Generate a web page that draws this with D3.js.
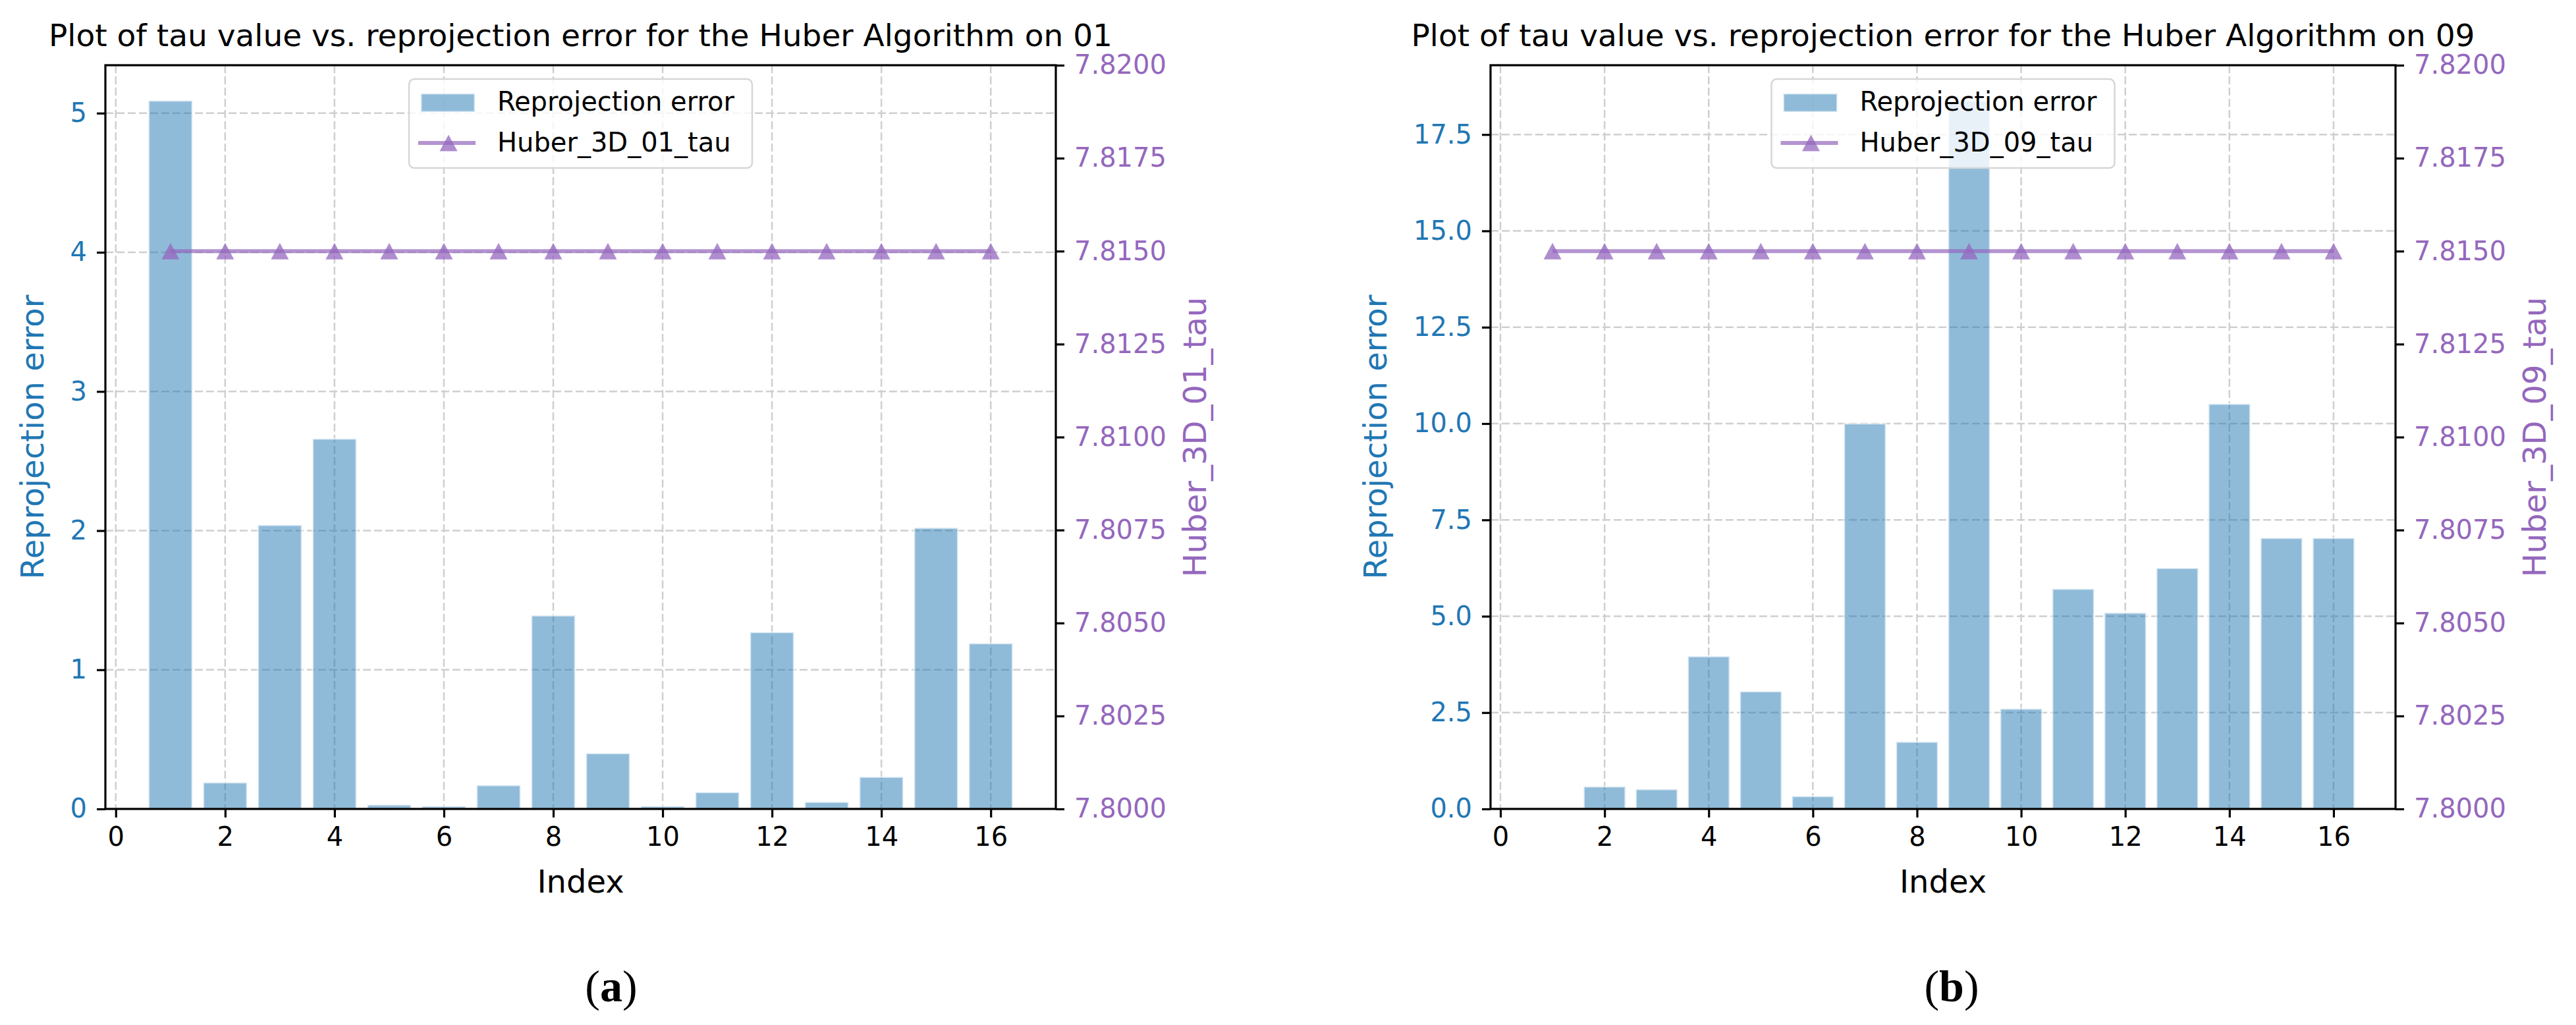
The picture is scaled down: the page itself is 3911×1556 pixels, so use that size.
<!DOCTYPE html>
<html>
<head>
<meta charset="utf-8">
<script src="https://cdn.jsdelivr.net/npm/d3@7"></script>
<style>
  body { margin: 0; background: #fff; }
  svg text { font-family: "DejaVu Sans", sans-serif; }
</style>
</head>
<body>
<div id="chart"></div>
<script>
// Data
let index = [1, 2, 3, 4, 5, 6, 7, 8, 9, 10, 11, 12, 13, 14, 15, 16];
let err01 = [5.09, 0.19, 2.04, 2.66, 0.03, 0.02, 0.17, 1.39, 0.40, 0.02, 0.12, 1.27, 0.05, 0.23, 2.02, 1.19];
let err09 = [0.03, 0.58, 0.51, 3.96, 3.05, 0.33, 10.00, 1.74, 18.38, 2.60, 5.71, 5.09, 6.25, 10.51, 7.03, 7.03];
let tau01 = [7.815, 7.815, 7.815, 7.815, 7.815, 7.815, 7.815, 7.815, 7.815, 7.815, 7.815, 7.815, 7.815, 7.815, 7.815, 7.815];
let tau09 = [7.815, 7.815, 7.815, 7.815, 7.815, 7.815, 7.815, 7.815, 7.815, 7.815, 7.815, 7.815, 7.815, 7.815, 7.815, 7.815];
let xTicks = [0, 2, 4, 6, 8, 10, 12, 14, 16];
let errTicks01 = [0, 1, 2, 3, 4, 5];
let errTicks09 = [0, 2.5, 5, 7.5, 10, 12.5, 15, 17.5];
let tauTicks = [7.8, 7.8025, 7.805, 7.8075, 7.81, 7.8125, 7.815, 7.8175, 7.82];
let tauDomain = [7.8, 7.82];
let titles = ["Plot of tau value vs. reprojection error for the Huber Algorithm on 01",
              "Plot of tau value vs. reprojection error for the Huber Algorithm on 09"];
let tauNames = ["Huber_3D_01_tau", "Huber_3D_09_tau"];
let captions = ["a", "b"];

let blue = "#1f77b4", purple = "#9467bd";
let font = "'DejaVu Sans', sans-serif";

let svg = d3.select("#chart").append("svg")
    .attr("width", 3911)
    .attr("height", 1556);

let panels = [
  {left: 160, top: 99, width: 1443, height: 1129, err: err01, tau: tau01, errTicks: errTicks01,
   errFormat: d3.format("d"), title: titles[0], tauName: tauNames[0], caption: captions[0], capX: 928},
  {left: 2263, top: 99, width: 1374, height: 1129, err: err09, tau: tau09, errTicks: errTicks09,
   errFormat: d3.format(".1f"), title: titles[1], tauName: tauNames[1], caption: captions[1], capX: 2963}
];

function drawPanel(p) {
  let W = p.width, H = p.height;
  let g = svg.append("g").attr("transform", `translate(${p.left}, ${p.top})`);

  // matplotlib style limits: bars of width .8 plus 5% margin
  let lo = d3.min(index) - 0.4, hi = d3.max(index) + 0.4, pad = (hi - lo) * 0.05;
  let x = d3.scaleLinear().domain([lo - pad, hi + pad]).range([0, W]);
  let y = d3.scaleLinear().domain([0, d3.max(p.err) * 1.05]).range([H, 0]);
  let yT = d3.scaleLinear().domain(tauDomain).range([H, 0]);

  // grid
  let grid = g.append("g").attr("class", "grid");
  grid.selectAll(".vg").data(xTicks).enter().append("line")
      .attr("x1", d => x(d)).attr("x2", d => x(d)).attr("y1", 0).attr("y2", H);
  grid.selectAll(".hg").data(p.errTicks).enter().append("line")
      .attr("x1", 0).attr("x2", W).attr("y1", d => y(d)).attr("y2", d => y(d));
  grid.selectAll("line")
      .attr("stroke", "#cfcfcf").attr("stroke-width", 2.5).attr("stroke-dasharray", "12,5");

  // bars
  g.selectAll(".bar").data(p.err).enter().append("rect")
      .attr("class", "bar")
      .attr("x", (d, i) => x(index[i] - 0.4))
      .attr("width", (d, i) => x(index[i] + 0.4) - x(index[i] - 0.4))
      .attr("y", d => y(d))
      .attr("height", d => H - y(d))
      .attr("fill", blue).attr("fill-opacity", 0.5)
      .attr("stroke", "#fff").attr("stroke-opacity", 0.6).attr("stroke-width", 3);

  // tau line
  let line = d3.line().x((d, i) => x(index[i])).y(d => yT(d));
  g.append("path").datum(p.tau)
      .attr("d", line)
      .attr("fill", "none")
      .attr("stroke", purple).attr("stroke-opacity", 0.7).attr("stroke-width", 6);
  let tri = "M0,-12.5L13.5,12.5L-13.5,12.5Z";
  g.selectAll(".mk").data(p.tau).enter().append("path")
      .attr("d", tri)
      .attr("transform", (d, i) => `translate(${x(index[i])}, ${yT(d)})`)
      .attr("fill", purple).attr("fill-opacity", 0.75);

  // axes
  function style(ax, color) {
    ax.select(".domain").remove();
    ax.attr("font-family", font).attr("font-size", 40);
    ax.selectAll(".tick line").attr("stroke", "#000").attr("stroke-width", 3.2);
    ax.selectAll(".tick text").attr("fill", color);
  }
  let xAx = g.append("g").attr("transform", `translate(0, ${H})`)
      .call(d3.axisBottom(x).tickValues(xTicks).tickFormat(d3.format("d")).tickSize(13).tickPadding(15));
  style(xAx, "#000");
  let yAx = g.append("g")
      .call(d3.axisLeft(y).tickValues(p.errTicks).tickFormat(p.errFormat).tickSize(13).tickPadding(15));
  style(yAx, blue);
  let tAx = g.append("g").attr("transform", `translate(${W}, 0)`)
      .call(d3.axisRight(yT).tickValues(tauTicks).tickFormat(d3.format(".4f")).tickSize(13).tickPadding(15));
  style(tAx, purple);

  // spines
  g.append("rect").attr("width", W).attr("height", H)
      .attr("fill", "none").attr("stroke", "#000").attr("stroke-width", 3.2);

  // labels
  let yb = yAx.node().getBBox();
  g.append("text")
      .attr("transform", `translate(${yb.x - 41}, ${H / 2}) rotate(-90)`)
      .attr("text-anchor", "middle").attr("font-size", 48).attr("fill", blue)
      .text("Reprojection error");
  let tb = tAx.node().getBBox();
  g.append("text")
      .attr("transform", `translate(${W + tb.x + tb.width + 60}, ${H / 2}) rotate(-90)`)
      .attr("text-anchor", "middle").attr("font-size", 48).attr("fill", purple)
      .text(p.tauName);
  g.append("text")
      .attr("x", W / 2).attr("y", H + 127)
      .attr("text-anchor", "middle").attr("font-size", 48).attr("fill", "#000")
      .text("Index");
  g.append("text")
      .attr("x", W / 2).attr("y", -29)
      .attr("text-anchor", "middle").attr("font-size", 47).attr("fill", "#000")
      .text(p.title);

  // legend (upper center)
  let lg = g.append("g").attr("transform", `translate(${W / 2 - 260.5}, 21)`);
  lg.append("rect").attr("width", 521).attr("height", 135).attr("rx", 8)
      .attr("fill", "#fff").attr("fill-opacity", 0.8)
      .attr("stroke", "#d6d6d6").attr("stroke-width", 2.5);
  lg.append("rect").attr("x", 18).attr("y", 22).attr("width", 82).attr("height", 28)
      .attr("fill", blue).attr("fill-opacity", 0.5)
      .attr("stroke", "#fff").attr("stroke-opacity", 0.6).attr("stroke-width", 3);
  lg.append("line").attr("x1", 14).attr("x2", 101).attr("y1", 97).attr("y2", 97)
      .attr("stroke", purple).attr("stroke-opacity", 0.7).attr("stroke-width", 6);
  lg.append("path").attr("d", tri).attr("transform", "translate(60, 97)")
      .attr("fill", purple).attr("fill-opacity", 0.75);
  lg.append("text").attr("x", 134).attr("y", 48).attr("font-size", 40).text("Reprojection error");
  lg.append("text").attr("x", 134).attr("y", 110).attr("font-size", 40).text(p.tauName);

  // sub-figure caption
  let cap = svg.append("text")
      .attr("x", p.capX).attr("y", 1520)
      .attr("text-anchor", "middle")
      .style("font-family", "'Liberation Serif', serif").attr("font-size", 68);
  cap.append("tspan").text("(");
  cap.append("tspan").attr("font-weight", "bold").text(p.caption);
  cap.append("tspan").text(")");
}

panels.forEach(drawPanel);
</script>
</body>
</html>
